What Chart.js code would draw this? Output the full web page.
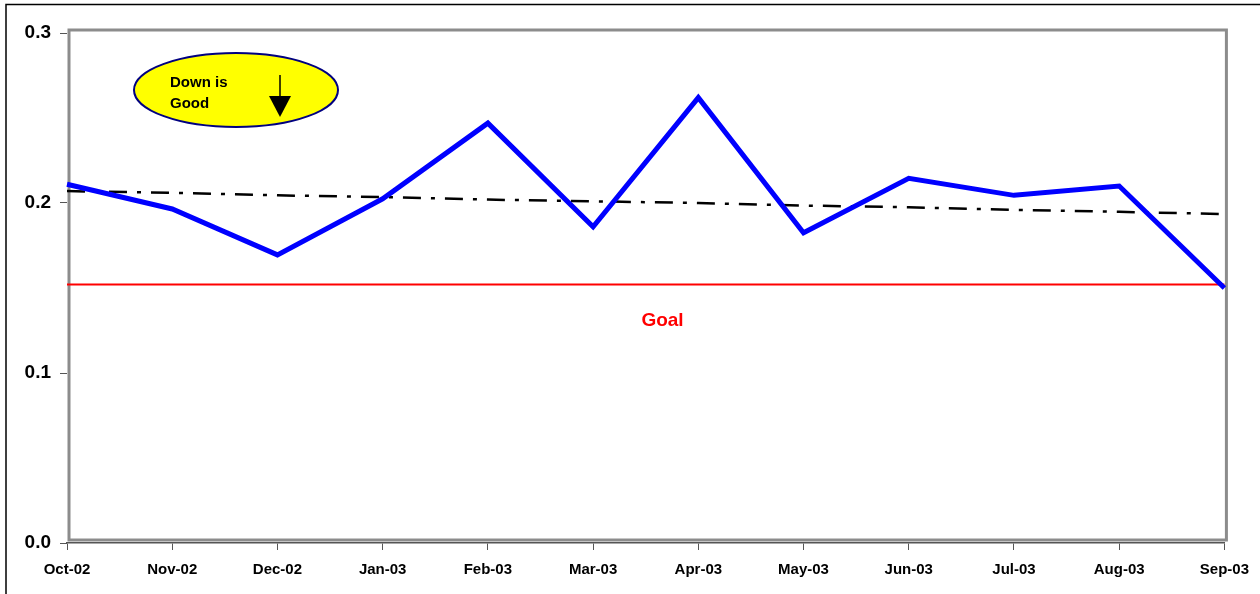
<!DOCTYPE html>
<html>
<head>
<meta charset="utf-8">
<script src="https://cdn.jsdelivr.net/npm/chart.js@4"></script>
<style>
  html, body { margin: 0; padding: 0; background: #fff; }
  #wrap { width: 1260px; height: 594px; position: relative; }
</style>
</head>
<body>
<div id="wrap"><canvas id="chart" width="1260" height="594"></canvas></div>
<script>
// maanden op de x-as
var months = ["Oct-02", "Nov-02", "Dec-02", "Jan-03", "Feb-03", "Mar-03",
              "Apr-03", "May-03", "Jun-03", "Jul-03", "Aug-03", "Sep-03"];
// gemeten waarden (blauwe lijn)
var actual = [0.211, 0.1965, 0.1695, 0.2025, 0.247, 0.186,
              0.262, 0.1825, 0.2145, 0.2045, 0.210, 0.150];
// trendlijn (zwart streep-punt)
var trend = [0.207, 0.206, 0.2045, 0.2035, 0.202, 0.201,
             0.200, 0.1985, 0.1975, 0.196, 0.1948, 0.1935];
// doel
var goalValue = 0.152;
var goal = months.map(function () { return goalValue; });
var yTicks = [0.0, 0.1, 0.2, 0.3];

var FONT = "Liberation Sans, Arial, sans-serif";

// extra tekeningen: kader, Goal-tekst, ellips
var decor = {
    id: "decor",
    beforeDatasetsDraw: function (chart) {
        var c = chart.ctx, a = chart.chartArea;
        c.save();
        // buitenrand (alleen links/boven zichtbaar)
        c.strokeStyle = "#000";
        c.lineWidth = 1.5;
        c.beginPath();
        c.moveTo(6, 594);
        c.lineTo(6, 4.5);
        c.lineTo(1260, 4.5);
        c.stroke();
        // grijs kader rond plotgebied
        c.strokeStyle = "#8c8c8c";
        c.lineWidth = 3;
        c.strokeRect(a.left + 2, a.top - 3, a.right - a.left, a.bottom - a.top);
        c.restore();
    },
    afterDraw: function (chart) {
        var c = chart.ctx;
        var x = chart.scales.x, y = chart.scales.y;
        c.save();
        // Goal label
        c.fillStyle = "#ff0000";
        c.font = "bold 19px " + FONT;
        c.textAlign = "center";
        c.textBaseline = "middle";
        c.fillText("Goal", x.getPixelForValue(5.66), y.getPixelForValue(0.131));

        // gele ellips
        c.beginPath();
        c.ellipse(236, 90, 102, 37, 0, 0, Math.PI * 2);
        c.fillStyle = "#ffff00";
        c.fill();
        c.strokeStyle = "#000080";
        c.lineWidth = 2;
        c.stroke();

        c.fillStyle = "#000";
        c.font = "bold 15px " + FONT;
        c.textAlign = "left";
        c.fillText("Down is", 170, 83);
        c.fillText("Good", 170, 104);

        // pijl
        c.strokeStyle = "#000";
        c.lineWidth = 1.5;
        c.beginPath();
        c.moveTo(280, 75);
        c.lineTo(280, 96);
        c.stroke();
        c.beginPath();
        c.moveTo(269, 96);
        c.lineTo(291, 96);
        c.lineTo(280, 117);
        c.closePath();
        c.fill();
        c.restore();
    }
};

new Chart(document.getElementById("chart"), {
    type: "line",
    data: {
        labels: months,
        datasets: [
            {
                label: "Goal",
                data: goal,
                borderColor: "#ff0000",
                borderWidth: 2,
                pointRadius: 0,
                order: 3
            },
            {
                label: "Trend",
                data: trend,
                borderColor: "#000",
                borderWidth: 2.5,
                borderDash: [18, 10, 4, 10],
                pointRadius: 0,
                order: 2
            },
            {
                label: "Actual",
                data: actual,
                borderColor: "#0000ff",
                borderWidth: 5,
                pointRadius: 0,
                tension: 0,
                order: 1
            }
        ]
    },
    options: {
        responsive: false,
        animation: false,
        layout: { padding: { left: 0, right: 35, top: 33, bottom: 0 } },
        plugins: {
            legend: { display: false },
            tooltip: { enabled: false }
        },
        scales: {
            x: {
                offset: false,
                grid: { drawOnChartArea: false, drawTicks: true, tickLength: 7, color: "#555" },
                border: { color: "#555", width: 1.5 },
                ticks: {
                    color: "#000",
                    font: { family: FONT, size: 15, weight: "bold" },
                    padding: 11,
                    maxRotation: 0,
                    autoSkip: false
                },
                afterFit: function (s) { s.height = 51; }
            },
            y: {
                min: 0,
                max: 0.3,
                afterBuildTicks: function (s) {
                    s.ticks = yTicks.map(function (v) { return { value: v }; });
                },
                grid: { drawOnChartArea: false, drawTicks: true, tickLength: 7, color: "#555" },
                border: { display: false },
                ticks: {
                    color: "#000",
                    font: { family: FONT, size: 19, weight: "bold" },
                    padding: 9,
                    callback: function (v) { return Number(v).toFixed(1); }
                },
                afterFit: function (s) { s.width = 67; }
            }
        }
    },
    plugins: [decor]
});
</script>
</body>
</html>
